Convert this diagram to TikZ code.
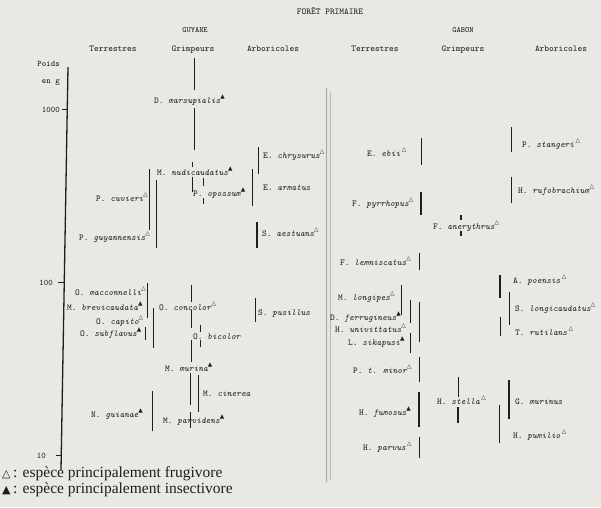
\documentclass[tikz,border=0pt]{standalone}
\usepackage{fontspec}
\setmainfont{Liberation Serif}
\newfontfamily\symf{DejaVu Sans}
\definecolor{paper}{RGB}{232,232,229}
\definecolor{ink}{RGB}{30,30,30}
\newcommand\fru{\raisebox{4.5pt}{\symf\fontsize{5.8}{5.8}\selectfont △}}
\newcommand\ins{\raisebox{4.5pt}{\symf\fontsize{5.8}{5.8}\selectfont ▲}}
\begin{document}
\begin{tikzpicture}[x=1pt,y=-1pt,
  lbl/.style={anchor=base west,inner sep=0pt,text=ink,font=\ttfamily\fontsize{9}{9}\selectfont},
  hdr/.style={anchor=base,inner sep=0pt,text=ink,font=\ttfamily\fontsize{9}{9}\selectfont},
  cty/.style={anchor=base,inner sep=0pt,text=ink,font=\ttfamily\fontsize{8}{8}\selectfont},
  axl/.style={anchor=base east,inner sep=0pt,text=ink,font=\ttfamily\fontsize{8.5}{8.5}\selectfont},
  rng/.style={draw=ink,line width=0.9pt},
  rngb/.style={draw=ink,line width=1.6pt},
  rngt/.style={draw=ink,line width=0.6pt},
  leg/.style={anchor=base west,inner sep=0pt,text=ink,font=\fontsize{15.5}{15.5}\selectfont}]
\fill[paper] (0,0) rectangle (601,507);
\useasboundingbox (0,0) rectangle (601,507);

% title and headers
\node[hdr] (title) at (330,14) {FORÊT PRIMAIRE};
\node[cty] (guy) at (195,32) {GUYANE};
\node[cty] (gab) at (463,32) {GABON};
\node[hdr] (h1) at (113,51) {Terrestres};
\node[hdr] (h2) at (193,51) {Grimpeurs};
\node[hdr] (h3) at (273,51) {Arboricoles};
\node[hdr] (h4) at (375,51) {Terrestres};
\node[hdr] (h5) at (463,51) {Grimpeurs};
\node[hdr] (h6) at (561,51) {Arboricoles};

% axis
\coordinate (atop) at (68,67);
\coordinate (abot) at (61,470);
\draw[ink,line width=1.3pt] (atop) -- (abot);
\node[axl] (poids) at (60,66) {Poids};
\node[axl] (eng) at (60,83) {en g};
\node[axl] (v1000) at (60,112) {1000};
\node[axl] (v100) at (53,285) {100};
\node[axl] (v10) at (46,458) {10};
\draw[ink,line width=0.8pt] (62,109) -- (67.3,109);
\draw[ink,line width=0.8pt] (58,282) -- (64.3,282);
\draw[ink,line width=0.8pt] (56,455) -- (61.3,455);

% central divider
\draw[line width=4pt,white!80!gray] (328,88) -- (328,482);
\draw[line width=0.7pt,gray!70] (326,88) -- (326,482);
\draw[line width=0.7pt,gray!55] (330,92) -- (330,480);

% ---------- GUYANE ----------
\node[lbl] (cuv) at (96,201) {P. \textit{cuvieri}\fru};
\node[lbl] (guya) at (79,240) {P. \textit{guyannensis}\fru};
\node[lbl] (macc) at (75,295) {O. \textit{macconnelli}\fru};
\node[lbl] (brev) at (67,310) {M. \textit{brevicaudata}\ins};
\node[lbl] (capi) at (96,324) {O. \textit{capito}\fru};
\node[lbl] (subf) at (80,336) {O. \textit{subflavus}\ins};
\node[lbl] (guia) at (91,417) {N. \textit{guianae}\ins};

\node[lbl] (mars) at (154,103) {D. \textit{marsupialis}\ins};
\node[lbl] (nudi) at (157,175) {M. \textit{nudicaudatus}\ins};
\node[lbl] (opos) at (193,196) {P. \textit{opossum}\ins};
\node[lbl] (conc) at (159,310) {O. \textit{concolor}\fru};
\node[lbl] (bico) at (193,339) {O. \textit{bicolor}};
\node[lbl] (muri) at (165,371) {M. \textit{murina}\ins};
\node[lbl] (cine) at (203,396) {M. \textit{cinerea}};
\node[lbl] (parv) at (163,423) {M. \textit{parvidens}\ins};

\node[lbl] (chry) at (263,158) {E. \textit{chrysurus}\fru};
\node[lbl] (arma) at (263,190) {E. \textit{armatus}};
\node[lbl] (aest) at (262,236) {S. \textit{aestuans}\fru};
\node[lbl] (pusi) at (258,315) {S. \textit{pusillus}};

\draw[rng] (194,58) -- (194,90) (194,108) -- (194,150);
\draw[rng] (149,169) -- (149,230);
\draw[rng] (156,180) -- (156,248);
\draw[rng] (192,162) -- (192,167) (192,177) -- (192,192);
\draw[rngt] (203,178) -- (203,186) (203,198) -- (203,204);
\draw[rng] (147,283) -- (147,318);
\draw[rng] (145,327) -- (145,340);
\draw[rng] (153,308) -- (153,348);
\draw[rng] (152,391) -- (152,431);
\draw[rngt] (191,285) -- (191,302) (191,310) -- (191,328) (191,340) -- (191,362);
\draw[rngt] (200,325) -- (200,332) (200,340) -- (200,347);
\draw[rngt] (190,373) -- (190,405) (190,412) -- (190,428);
\draw[rng] (198,375) -- (198,412);
\draw[rng] (258,147) -- (258,174);
\draw[rng] (252,169) -- (252,206);
\draw[rngb] (257,222) -- (257,248);
\draw[rng] (255,298) -- (255,322);

% ---------- GABON ----------
\node[lbl] (ebii) at (367,156) {E. \textit{ebii}\,\fru};
\node[lbl] (pyrr) at (352,206) {F. \textit{pyrrhopus}\fru};
\node[lbl] (lemn) at (340,265) {F. \textit{lemniscatus}\fru};
\node[lbl] (long) at (338,300) {M. \textit{longipes}\fru};
\node[lbl] (ferr) at (330,320) {D. \textit{ferrugineus}\ins};
\node[lbl] (univ) at (335,332) {H. \textit{univittatus}\fru};
\node[lbl] (sika) at (348,345) {L. \textit{sikapusi}\ins};
\node[lbl] (mino) at (353,373) {P. \textit{t. minor}\fru};
\node[lbl] (fumo) at (359,415) {H. \textit{fumosus}\ins};
\node[lbl] (parvu) at (363,450) {H. \textit{parvus}\,\fru};

\node[lbl] (aner) at (433,229) {F. \textit{anerythrus}\fru};
\node[lbl] (stel) at (437,404) {H. \textit{stella}\,\fru};

\node[lbl] (stan) at (522,147) {P. \textit{stangeri}\,\fru};
\node[lbl] (rufo) at (518,193) {H. \textit{rufobrachium}\fru};
\node[lbl] (poen) at (513,283) {A. \textit{poensis}\,\fru};
\node[lbl] (lonc) at (515,311) {S. \textit{longicaudatus}\fru};
\node[lbl] (ruti) at (515,335) {T. \textit{rutilans}\,\fru};
\node[lbl] (gmur) at (515,404) {G. \textit{murinus}};
\node[lbl] (pumi) at (513,438) {H. \textit{pumilio}\,\fru};

\draw[rng] (421,138) -- (421,165);
\draw[rngb] (421,192) -- (421,215);
\draw[rng] (419,253) -- (419,270);
\draw[rng] (401,285) -- (401,315);
\draw[rngt] (410,300) -- (410,323) (410,333) -- (410,353);
\draw[rng] (419,302) -- (419,342);
\draw[rng] (419,357) -- (419,382);
\draw[rngb] (419,392) -- (419,427);
\draw[rng] (419,437) -- (419,458);
\draw[rngb] (461,215) -- (461,220) (461,231) -- (461,236);
\draw[rngt] (458,377) -- (458,397);
\draw[rngb] (458,407) -- (458,423);
\draw[rng] (511,127) -- (511,152);
\draw[rng] (511,177) -- (511,203);
\draw[rngb] (500,275) -- (500,298);
\draw[rngt] (500,317) -- (500,336);
\draw[rng] (509,292) -- (509,325);
\draw[rngb] (509,380) -- (509,419);
\draw[rngt] (499,405) -- (499,443);

% legend
\node[leg] (leg1) at (2,477) {{\symf\fontsize{11}{11}\selectfont △}\,: espèce principalement frugivore};
\node[leg] (leg2) at (2,493) {{\symf\fontsize{11}{11}\selectfont ▲}\,: espèce principalement insectivore};
\end{tikzpicture}
\end{document}
